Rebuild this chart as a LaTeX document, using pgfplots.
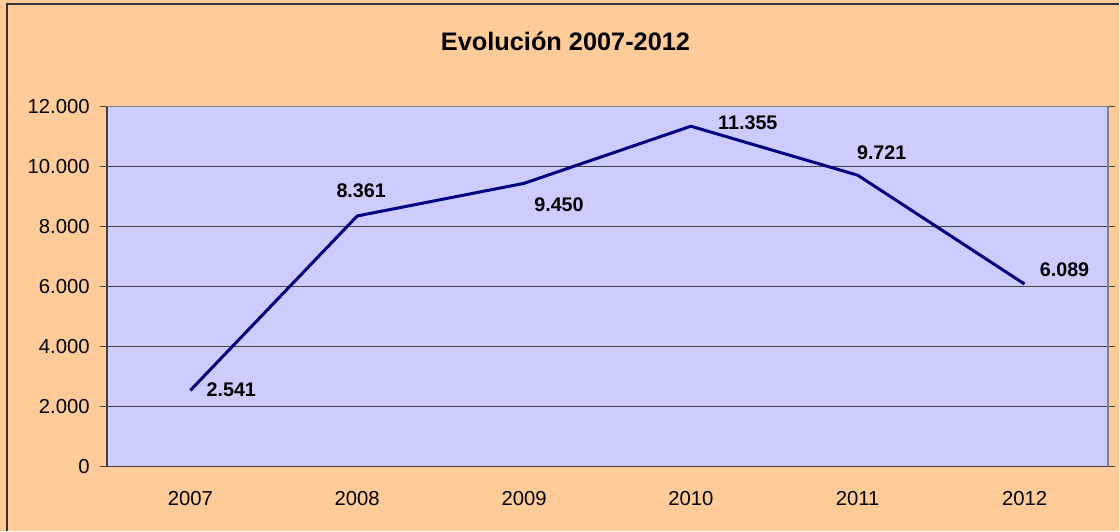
\documentclass[border=0pt]{standalone}
\usepackage{fontspec}
\setmainfont{Liberation Sans}
\usepackage{pgfplots}
\usepackage{pgfplotstable}
\pgfplotsset{compat=1.18}
\definecolor{peach}{HTML}{FFCC99}
\definecolor{lav}{HTML}{CCCCFF}
\definecolor{navyline}{HTML}{000080}
\definecolor{gridc}{HTML}{404040}

\pgfplotstableread{
x y dx dy
0 2541 41 -1
1 8361 4 -25
2 9450 35 21
3 11355 57 -4
4 9721 24 -23
5 6089 40 -14
}\datatable

\begin{document}
\begin{tikzpicture}
\fill[peach] (0,0) rectangle (840pt,398.25pt);
\draw[line width=1.5pt, color=black!80] (5.25pt,0) -- (5.25pt,395pt) -- (840pt,395pt);
\node[font=\fontsize{19}{22}\selectfont\bfseries] at (424.5pt,367.5pt) {Evolución 2007-2012};
\begin{axis}[
  at={(80.25pt,48pt)}, anchor=south west,
  scale only axis, width=751.5pt, height=270pt,
  xmin=-0.5, xmax=5.5, ymin=0, ymax=12000,
  axis background/.style={fill=lav},
  axis line style={draw=none},
  xtick={0,...,5},
  xticklabels={2007,2008,2009,2010,2011,2012},
  x tick style={draw=none},
  extra x ticks={-0.5,0.5,1.5,2.5,3.5,4.5,5.5},
  extra x tick labels={},
  extra x tick style={grid=none, tick align=outside, major tick length=5.25pt, tick style={draw=gridc, line width=0.75pt}},
  ytick={0,2000,...,12000},
  scaled y ticks=false,
  tick align=outside,
  major tick length=5.25pt,
  y tick style={draw=gridc, line width=0.75pt},
  ymajorgrids,
  major grid style={draw=gridc, line width=0.75pt},
  /pgf/number format/.cd, 1000 sep={.}, assume math mode=true,
  /pgfplots/.cd,
  tick label style={font=\fontsize{15.2}{18}\selectfont},
  yticklabel style={anchor=east, inner sep=0pt, xshift=-7.5pt},
  xticklabel style={anchor=center, inner sep=0pt, yshift=-18.75pt},
  clip=false,
]
\addplot[navyline, line width=2.25pt,
  nodes near coords={\pgfmathprintnumber[1000 sep={.}]{\pgfplotspointmeta}},
  visualization depends on={\thisrow{dx} \as \dx},
  visualization depends on={\thisrow{dy} \as \dy},
  every node near coord/.append style={anchor=center, inner sep=0pt, text=black,
    font=\fontsize{14.8}{18}\selectfont\bfseries,
    xshift=\dx*0.75pt, yshift=-\dy*0.75pt},
] table[x=x, y=y] {\datatable};
\draw[gray, line width=0.9pt] (rel axis cs:0,1) -- (rel axis cs:1,1) -- (rel axis cs:1,0);
\draw[gridc, line width=0.9pt] (rel axis cs:0,1) -- (rel axis cs:0,0) -- (rel axis cs:1,0);
\end{axis}
\end{tikzpicture}
\end{document}
